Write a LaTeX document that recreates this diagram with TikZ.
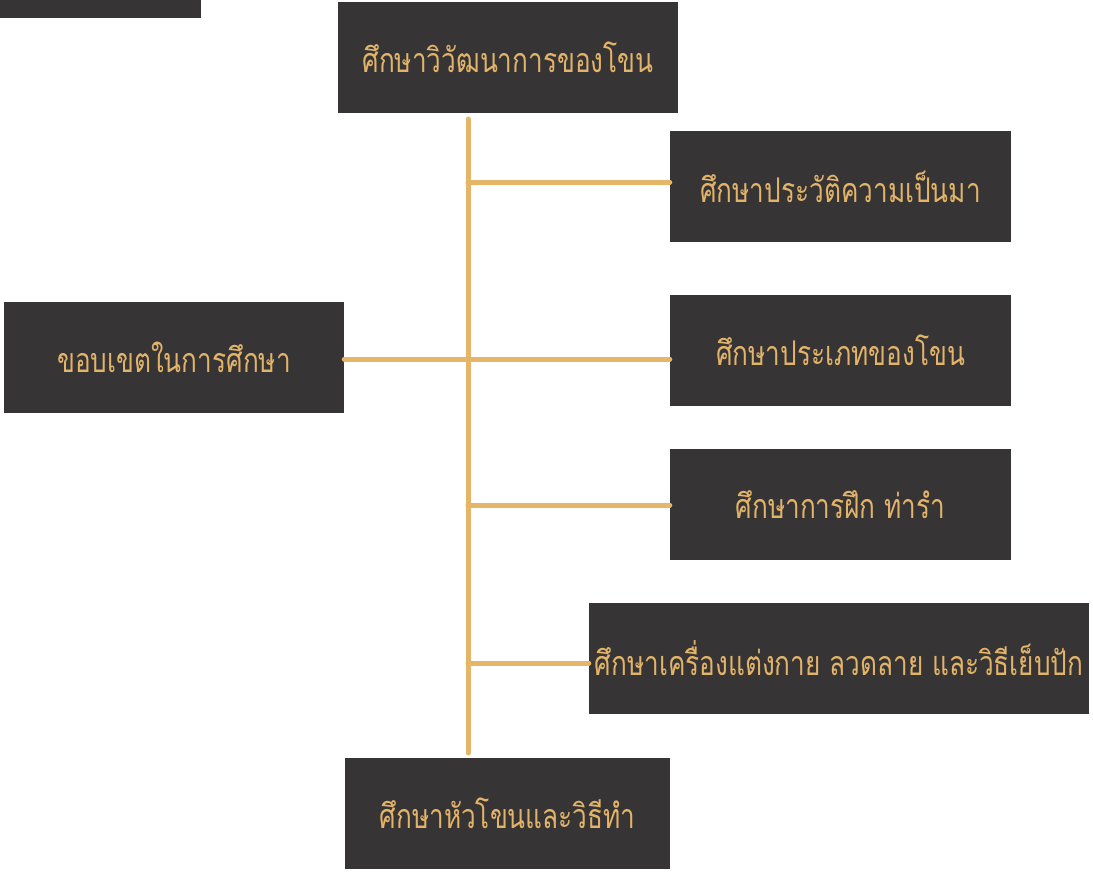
\documentclass[tikz,border=0pt]{standalone}
\usepackage{fontspec}
\newfontfamily\thaifont[Script=Thai,FakeStretch=0.77]{Loma}
\definecolor{boxfill}{HTML}{373435}
\definecolor{gold}{HTML}{E6B668}
\definecolor{goldtext}{HTML}{E2B46A}
\begin{document}
\begin{tikzpicture}[x=1pt,y=-1pt,
  bx/.style={fill=boxfill,draw=none,inner sep=0pt,minimum height=111pt,text=goldtext,font=\thaifont\fontsize{34}{40}\selectfont},
  conn/.style={draw=gold,line width=5pt,line cap=round}]
\useasboundingbox (0,0) rectangle (1093,871);
\fill[boxfill] (0,0) rectangle (201,18);
\node[bx,minimum width=340pt] (top) at (508,57.5) {ศึกษาวิวัฒนาการของโขน};
\node[bx,minimum width=341pt] (b1) at (840.5,186.5) {ศึกษาประวัติความเป็นมา};
\node[bx,minimum width=340pt] (left) at (174,357) {ขอบเขตในการศึกษา};
\node[bx,minimum width=341pt] (b2) at (840.5,350.5) {ศึกษาประเภทของโขน};
\node[bx,minimum width=341pt] (b3) at (840.5,504.5) {ศึกษาการฝึก ท่ารำ};
\node[bx,minimum width=500pt] (b4) at (839,658.5) {ศึกษาเครื่องแต่งกาย ลวดลาย และวิธีเย็บปัก};
\node[bx,minimum width=325pt] (bot) at (507.5,813.5) {ศึกษาหัวโขนและวิธีทำ};
\coordinate (ttop) at (468,119);
\coordinate (tbot) at (468,753);
\coordinate (t1) at (468,182);
\coordinate (t3) at (468,505);
\coordinate (t4) at (468,663);
\draw[conn] (ttop) -- (tbot);
\draw[conn] (t1) -- (t1 -| b1.west);
\draw[conn] (left.east |- 0,359) -- (b2.west |- 0,359);
\draw[conn] (t3) -- (t3 -| b3.west);
\draw[conn] (t4) -- (t4 -| b4.west);
\end{tikzpicture}
\end{document}
